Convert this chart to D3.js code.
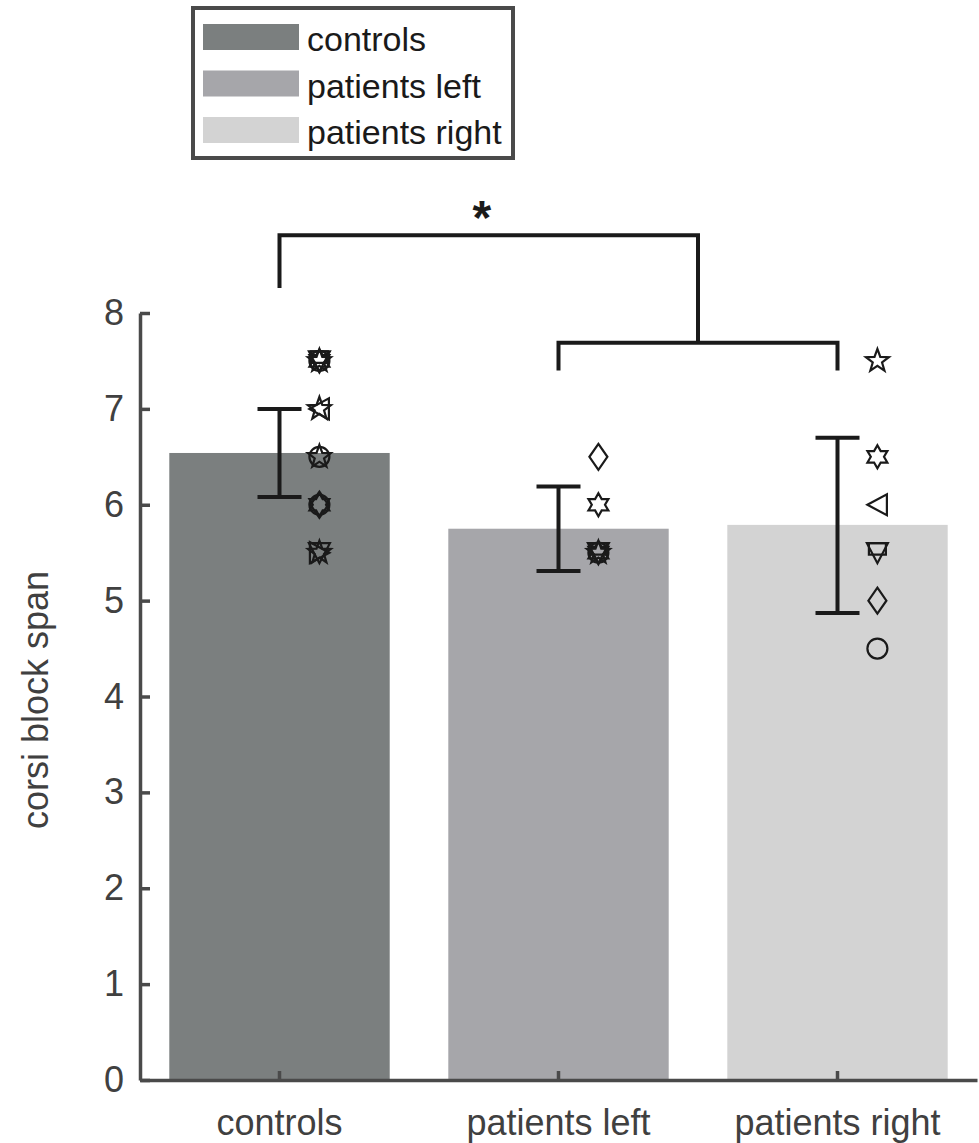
<!DOCTYPE html>
<html>
<head>
<meta charset="utf-8">
<script src="https://cdn.jsdelivr.net/npm/d3@7"></script>
<style>
  body { margin: 0; background: #fff; }
  text { font-family: "Liberation Sans", Arial, sans-serif; }
</style>
</head>
<body>
<div id="main-container"></div>
<script>
// DATA
const groups = ["controls", "patients left", "patients right"];
const means = [6.54, 5.75, 5.79];
const errLow = [6.08, 5.31, 4.87];
const errHigh = [7.00, 6.19, 6.70];
const barColours = ["#7b7f7f", "#a6a6aa", "#d3d3d3"];
const yTicks = [0, 1, 2, 3, 4, 5, 6, 7, 8];

// individual subjects (score + marker) per group, several overlap
const controlsScores  = [7.5, 7.5, 7.5, 7.5, 7.5, 7.0, 7.0, 6.5, 6.5, 6.0, 6.0, 6.0, 5.5, 5.5, 5.5];
const controlsMarkers = ["hexagram", "circle", "down", "pentagram", "square", "left", "pentagram",
                         "circle", "pentagram", "hexagram", "circle", "diamond", "down", "right", "pentagram"];
const leftScores  = [6.5, 6.0, 5.5, 5.5, 5.5, 5.5, 5.5];
const leftMarkers = ["diamond", "hexagram", "hexagram", "circle", "down", "pentagram", "square"];
const rightScores  = [7.5, 6.5, 6.0, 5.5, 5.5, 5.0, 4.5];
const rightMarkers = ["pentagram", "hexagram", "left", "down", "square", "diamond", "circle"];

const starLevel = 8.81;

// DRAWING SETUP
const W = 979, H = 1143;
const svg = d3.select("#main-container").append("svg")
    .attr("width", W).attr("height", H);

const x = d3.scaleBand()
    .domain(groups)
    .range([140, 977])
    .paddingInner(0.21)
    .paddingOuter(0.105);
const cx = (g) => x(g) + x.bandwidth() / 2;

const y = d3.scaleLinear()
    .domain([0, 8])
    .range([1080, 313]);

const colour = d3.scaleOrdinal().domain(groups).range(barColours);

// bars
svg.selectAll("rect.bar")
    .data(groups)
    .enter()
    .append("rect")
        .attr("class", "bar")
        .attr("x", (d) => x(d))
        .attr("y", (d, i) => y(means[i]))
        .attr("width", x.bandwidth())
        .attr("height", (d, i) => y(0) - y(means[i]))
        .attr("fill", (d) => colour(d));

// axes
const xAxis = svg.append("g")
    .attr("transform", `translate(0, ${y(0)})`)
    .call(d3.axisBottom(x).tickSizeInner(-9).tickSizeOuter(0).tickPadding(29));
const yAxis = svg.append("g")
    .attr("transform", `translate(140, 0)`)
    .call(d3.axisLeft(y).tickValues(yTicks).tickFormat(d3.format("d"))
        .tickSizeInner(-10).tickSizeOuter(0).tickPadding(16));

[xAxis, yAxis].forEach((a) => {
    a.select(".domain").attr("stroke", "#4a4a4a").attr("stroke-width", 3.5);
    a.selectAll(".tick line").attr("stroke", "#4a4a4a").attr("stroke-width", 3.5);
    a.selectAll("text").attr("fill", "#404040").attr("font-size", 36)
        .style("font-family", "'Liberation Sans', Arial, sans-serif");
});

svg.append("text")
    .attr("transform", "translate(48, 700) rotate(-90)")
    .attr("text-anchor", "middle")
    .attr("font-size", 36)
    .attr("fill", "#404040")
    .text("corsi block span");

// error bars
const capHalf = 22;
const errG = svg.append("g").attr("stroke", "#1a1a1a").attr("stroke-width", 4).attr("fill", "none");
groups.forEach((g, i) => {
    errG.append("line").attr("x1", cx(g)).attr("x2", cx(g)).attr("y1", y(errLow[i])).attr("y2", y(errHigh[i]));
    errG.append("line").attr("x1", cx(g) - capHalf).attr("x2", cx(g) + capHalf).attr("y1", y(errLow[i])).attr("y2", y(errLow[i]));
    errG.append("line").attr("x1", cx(g) - capHalf).attr("x2", cx(g) + capHalf).attr("y1", y(errHigh[i])).attr("y2", y(errHigh[i]));
});

// marker shapes (matlab-like)
const poly = (pts) => ({ draw(ctx) {
    ctx.moveTo(pts[0][0], pts[0][1]);
    pts.slice(1).forEach((p) => ctx.lineTo(p[0], p[1]));
    ctx.closePath();
}});
const starPts = (n, ro, ri) => d3.range(2 * n).map((k) => {
    const a = -Math.PI / 2 + k * Math.PI / n, r = k % 2 ? ri : ro;
    return [r * Math.cos(a), r * Math.sin(a)];
});
const markerTypes = {
    circle: { draw(ctx) { ctx.moveTo(10, 0); ctx.arc(0, 0, 10, 0, 2 * Math.PI); } },
    diamond: poly([[0, -13], [9, 0], [0, 13], [-9, 0]]),
    square: poly([[-8.5, -9.5], [8.5, -9.5], [8.5, 2], [-8.5, 2]]),
    pentagram: poly(starPts(5, 12, 4.9)),
    hexagram: poly(starPts(6, 11.5, 6.6)),
    left: poly([[-10, 0], [9.5, -10.5], [9.5, 10.5]]),
    right: poly([[10, 0], [-9.5, -10.5], [-9.5, 10.5]]),
    down: poly([[-10.5, -9.5], [10.5, -9.5], [0, 10.5]])
};

const markerSets = [
    [controlsScores, controlsMarkers],
    [leftScores, leftMarkers],
    [rightScores, rightMarkers]
];
const markerOffset = x.step() * 0.143;
markerSets.forEach(([scores, markers], i) => {
    svg.append("g").selectAll("path")
        .data(scores)
        .enter()
        .append("path")
            .attr("transform", (d) => `translate(${cx(groups[i]) + markerOffset}, ${y(d)})`)
            .attr("d", (d, j) => d3.symbol().type(markerTypes[markers[j]])())
            .attr("fill", "none")
            .attr("stroke", "#1a1a1a")
            .attr("stroke-width", 2.2);
});

// significance bracket
const midPatients = (cx(groups[1]) + cx(groups[2])) / 2;
const brG = svg.append("g").attr("stroke", "#1a1a1a").attr("stroke-width", 4).attr("fill", "none");
brG.append("path").attr("d", d3.line()([
    [cx(groups[0]), y(8.26)], [cx(groups[0]), y(8.81)],
    [midPatients, y(8.81)], [midPatients, y(7.69)]
]));
brG.append("path").attr("d", d3.line()([
    [cx(groups[1]), y(7.40)], [cx(groups[1]), y(7.69)],
    [cx(groups[2]), y(7.69)], [cx(groups[2]), y(7.40)]
]));
svg.append("text")
    .attr("x", (cx(groups[0]) + midPatients) / 2 - 7)
    .attr("y", y(starLevel) - 1)
    .attr("text-anchor", "middle")
    .attr("font-size", 48)
    .attr("font-weight", "bold")
    .attr("fill", "#1a1a1a")
    .text("*");

// legend
const legend = svg.append("g");
legend.append("rect")
    .attr("x", 193).attr("y", 8).attr("width", 320).attr("height", 150)
    .attr("fill", "#fff").attr("stroke", "#4a4a4a").attr("stroke-width", 4);
groups.forEach((g, i) => {
    legend.append("rect")
        .attr("x", 203).attr("y", 24 + i * 46.5).attr("width", 96).attr("height", 26)
        .attr("fill", colour(g));
    legend.append("text")
        .attr("x", 307).attr("y", 51 + i * 46.5)
        .attr("font-size", 34)
        .attr("fill", "#1a1a1a")
        .text(g);
});
</script>
</body>
</html>
